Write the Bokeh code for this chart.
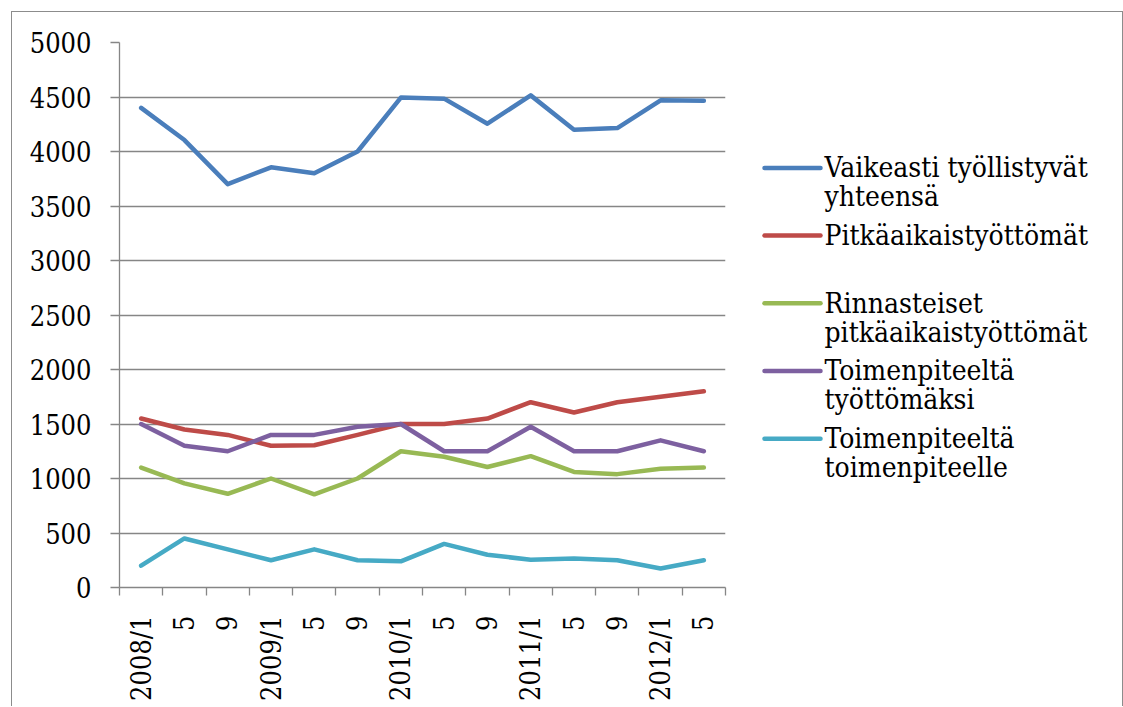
import math
from bokeh.plotting import figure
from bokeh.layouts import row
from bokeh.models import FixedTicker, Range1d, ColumnDataSource
from bokeh.core.properties import value
from bokeh.embed import file_html
from bokeh.resources import INLINE

# ---- data ----
months = ["2008/1", "5", "9", "2009/1", "5", "9", "2010/1", "5", "9",
          "2011/1", "5", "9", "2012/1", "5"]
vaikeasti = [4400, 4105, 3700, 3855, 3800, 4000, 4495, 4485, 4255, 4515, 4200, 4215, 4470, 4465]
pitkaaikais = [1550, 1450, 1400, 1300, 1305, 1400, 1500, 1500, 1550, 1700, 1605, 1700, 1750, 1800]
rinnasteiset = [1100, 955, 860, 1000, 855, 1000, 1250, 1200, 1105, 1205, 1060, 1040, 1090, 1100]
toim_tyottomaksi = [1500, 1300, 1250, 1400, 1400, 1475, 1500, 1250, 1250, 1475, 1250, 1250, 1350, 1250]
toim_toimenpiteelle = [200, 450, 350, 250, 350, 250, 240, 400, 300, 255, 265, 250, 175, 250]

series_names = ["Vaikeasti työllistyvät\nyhteensä", "Pitkäaikaistyöttömät",
                "Rinnasteiset\npitkäaikaistyöttömät", "Toimenpiteeltä\ntyöttömäksi",
                "Toimenpiteeltä\ntoimenpiteelle"]
series_values = [vaikeasti, pitkaaikais, rinnasteiset, toim_tyottomaksi, toim_toimenpiteelle]
series_colors = ["#4A7EBB", "#BE4B48", "#98B954", "#7D60A0", "#46AAC5"]
y_ticks = list(range(0, 5001, 500))

FONT = "DejaVu Serif Condensed"
GREY = "#868686"

# ---- main chart ----
n = len(months)
xs = [i + 0.5 for i in range(n)]

p = figure(width=723, height=694, x_range=Range1d(0, n), y_range=Range1d(0, 5000),
           output_backend="svg", toolbar_location=None,
           min_border_left=107, min_border_right=10, min_border_top=30, min_border_bottom=119)
p.outline_line_color = None

for vals, col in zip(series_values, series_colors):
    src = ColumnDataSource(dict(x=xs, y=vals))
    p.line("x", "y", source=src, line_color=col, line_width=4.5,
           line_cap="round", line_join="round")

# y axis
p.yaxis.ticker = FixedTicker(ticks=y_ticks)
p.yaxis.axis_line_color = GREY
p.yaxis.axis_line_width = 1.3
p.yaxis.major_tick_line_color = GREY
p.yaxis.major_tick_line_width = 1.3
p.yaxis.major_tick_out = 9
p.yaxis.major_tick_in = 0
p.yaxis.minor_tick_line_color = None
p.yaxis.major_label_standoff = 19
p.yaxis.major_label_text_font = FONT
p.yaxis.major_label_text_font_size = "27px"
p.yaxis.major_label_text_color = "black"

p.ygrid.grid_line_color = GREY
p.ygrid.grid_line_width = 1.3
p.xgrid.visible = False

# x axis: labels at category centres, ticks at boundaries
p.xaxis.ticker = FixedTicker(ticks=xs, minor_ticks=list(range(n + 1)))
p.xaxis.major_label_overrides = {x: m for x, m in zip(xs, months)}
p.xaxis.major_tick_out = 0
p.xaxis.major_tick_in = 0
p.xaxis.minor_tick_out = 8
p.xaxis.minor_tick_in = 0
p.xaxis.minor_tick_line_color = GREY
p.xaxis.minor_tick_line_width = 1.3
p.xaxis.axis_line_color = GREY
p.xaxis.axis_line_width = 1.3
p.xaxis.major_label_orientation = math.pi / 2
p.xaxis.major_label_standoff = 20
p.xaxis.major_label_text_font = FONT
p.xaxis.major_label_text_font_size = "27px"
p.xaxis.major_label_text_color = "black"

# ---- legend panel ----
LW, LH = 387, 694
leg = figure(width=LW, height=LH, x_range=Range1d(0, LW), y_range=Range1d(LH, 0),
             output_backend="svg", toolbar_location=None, min_border=0,
             x_axis_type=None, y_axis_type=None)
leg.outline_line_color = None
leg.grid.visible = False

y0, step, line_gap = 159.7, 86.2, 36.7
seg = dict(x0=[], x1=[], y=[], c=[])
txt = dict(x=[], y=[], t=[])
for i, (name, col) in enumerate(zip(series_names, series_colors)):
    yy = y0 + i * step
    seg["x0"].append(29); seg["x1"].append(85); seg["y"].append(yy); seg["c"].append(col)
    for j, line in enumerate(name.split("\n")):
        txt["x"].append(89); txt["y"].append(yy + j * line_gap); txt["t"].append(line)

leg.segment(x0="x0", y0="y", x1="x1", y1="y", color="c", line_width=4.5,
            line_cap="round", source=ColumnDataSource(seg))
leg.text(x="x", y="y", text="t", source=ColumnDataSource(txt),
         text_font=value(FONT), text_font_size="28px", text_color="black",
         text_baseline="middle", text_align="left")

layout = row(p, leg, margin=(11, 0, 0, 11),
             styles={"border-left": "1px solid #8c8c8c",
                     "border-top": "1px solid #8c8c8c",
                     "border-right": "1px solid #8c8c8c"})

open("out.html", "w").write(file_html(layout, INLINE))
